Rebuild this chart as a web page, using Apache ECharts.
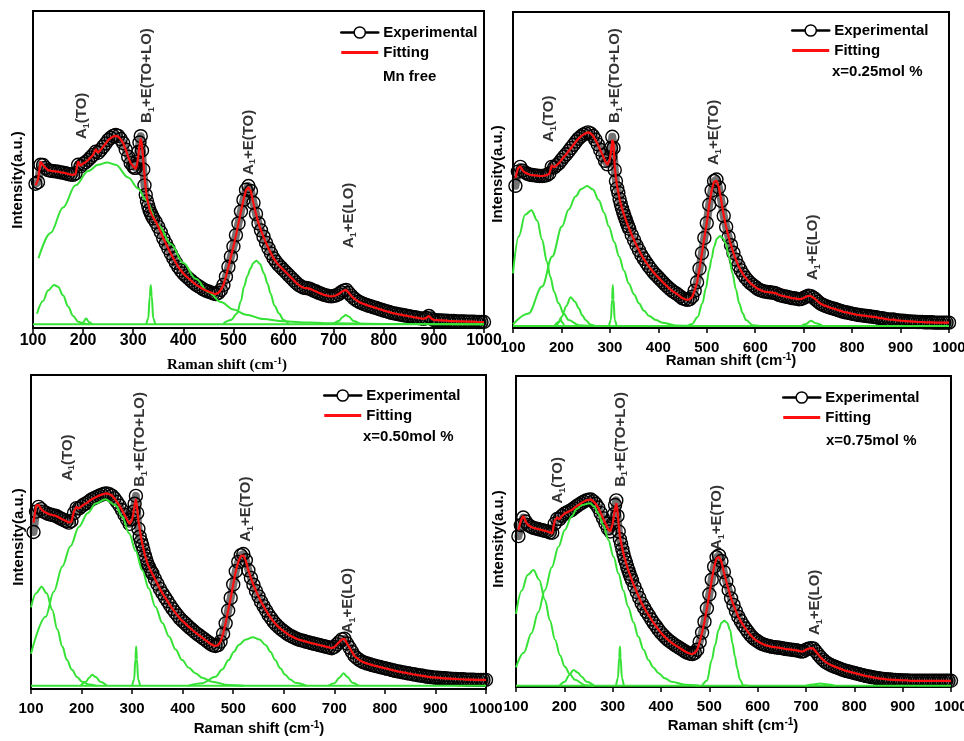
<!DOCTYPE html>
<html>
<head>
<meta charset="utf-8">
<script src="https://cdn.jsdelivr.net/npm/echarts@6/dist/echarts.min.js"></script>
<style>
  html, body { margin: 0; padding: 0; background: #fff; }
  #chart { width: 964px; height: 741px; }
</style>
</head>
<body>
<div id="chart"></div>
<script>
// Raman shift grid (cm-1), shared by the four spectra
const ramanShift = [
  105, 110, 115, 120, 125, 130, 135, 140, 145, 150,
  155, 160, 165, 170, 175, 180, 185, 190, 195, 200,
  205, 210, 215, 220, 225, 230, 235, 240, 245, 250,
  255, 260, 265, 270, 275, 280, 285, 290, 295, 300,
  302.5, 305, 307.5, 310, 312.5, 315, 317.5, 320, 322.5, 325, 327.5, 330, 332.5, 335, 337.5, 340,
  345, 350, 355, 360, 365, 370, 375, 380, 385, 390,
  395, 400, 405, 410, 415, 420, 425, 430, 435, 440,
  445, 450, 455, 460, 465, 470, 475, 480, 485, 490,
  495, 500, 505, 510, 515, 520, 525, 530, 535, 540,
  545, 550, 555, 560, 565, 570, 575, 580, 585, 590,
  595, 600, 605, 610, 615, 620, 625, 630, 635, 640,
  645, 650, 655, 660, 665, 670, 675, 680, 685, 690,
  695, 700, 705, 710, 715, 720, 725, 730, 735, 740,
  745, 750, 755, 760, 765, 770, 775, 780, 785, 790,
  795, 800, 805, 810, 815, 820, 825, 830, 835, 840,
  845, 850, 855, 860, 865, 870, 875, 880, 885, 890,
  895, 900, 905, 910, 915, 920, 925, 930, 935, 940,
  945, 950, 955, 960, 965, 970, 975, 980, 985, 990, 995, 1000
]

// ---- Mn free ----
const expMnFree = [
  45.5, 46.0, 51.5, 51.4, 50.5, 49.8, 49.6, 49.5, 49.4, 49.3,
  49.1, 49.0, 48.8, 48.6, 48.4, 48.3, 48.8, 51.5, 51.0, 51.8,
  52.3, 53.0, 53.8, 54.6, 55.6, 55.3, 56.2, 57.2, 58.2, 59.3,
  60.0, 60.6, 60.9, 60.6, 59.6, 58.3, 56.3, 54.0, 52.0, 51.0,
  50.5, 50.5, 52.5, 55.5, 58.5, 60.5, 56.0, 50.0, 45.0, 42.0, 40.0, 38.5, 37.2, 36.2, 35.4, 34.6,
  33.4, 31.9, 30.2, 28.3, 26.7, 25.1, 23.5, 22.0, 20.6, 19.3,
  18.2, 17.2, 16.4, 15.7, 15.0, 14.3, 13.7, 13.2, 12.7, 12.2,
  11.8, 11.5, 11.2, 10.9, 10.7, 11.1, 12.0, 13.6, 16.2, 19.3,
  22.5, 25.7, 29.3, 33.0, 36.8, 40.4, 43.6, 44.8, 43.2, 39.5,
  36.0, 33.0, 30.8, 28.8, 26.9, 25.1, 23.5, 22.0, 20.9, 19.9,
  19.1, 18.3, 17.5, 16.7, 15.9, 15.1, 14.3, 13.6, 13.1, 12.7,
  12.6, 12.5, 12.2, 11.8, 11.5, 11.1, 10.8, 10.5, 10.3, 10.1,
  10.0, 10.1, 10.3, 10.7, 11.3, 11.8, 12.0, 11.1, 10.2, 9.4,
  8.8, 8.3, 7.9, 7.6, 7.3, 7.0, 6.8, 6.5, 6.3, 6.0,
  5.8, 5.5, 5.3, 5.1, 4.8, 4.6, 4.5, 4.3, 4.2, 4.0,
  3.9, 3.7, 3.6, 3.4, 3.3, 3.1, 3.0, 2.9, 3.2, 3.8,
  3.0, 2.5, 2.5, 2.4, 2.4, 2.3, 2.3, 2.2, 2.2, 2.2,
  2.1, 2.1, 2.1, 2.1, 2.0, 2.0, 2.0, 2.0, 1.9, 1.9, 1.9, 1.9
]
const fitMnFree = [
  45.0, 46.8, 52.5, 51.4, 50.5, 49.8, 49.6, 49.5, 49.4, 49.3,
  49.1, 49.0, 48.8, 48.6, 48.4, 48.3, 48.6, 52.5, 51.2, 51.9,
  52.3, 53.0, 53.8, 54.6, 56.4, 55.3, 56.2, 57.2, 58.2, 59.3,
  59.9, 60.4, 60.6, 60.4, 59.5, 58.3, 56.3, 54.0, 52.0, 51.0,
  50.5, 50.2, 51.5, 54.0, 57.5, 59.8, 57.5, 53.0, 48.0, 44.0, 41.0, 39.3, 37.5, 36.5, 35.6, 34.8,
  33.5, 32.0, 30.2, 28.3, 26.7, 25.1, 23.5, 22.0, 20.6, 19.3,
  18.2, 17.2, 16.4, 15.7, 15.0, 14.3, 13.7, 13.2, 12.7, 12.2,
  11.8, 11.5, 11.2, 10.9, 10.7, 11.1, 12.0, 13.6, 16.2, 19.3,
  22.5, 25.7, 29.3, 33.0, 36.8, 40.4, 43.5, 44.4, 43.0, 39.3,
  36.0, 33.0, 30.8, 28.8, 26.9, 25.1, 23.5, 22.0, 20.9, 19.9,
  19.1, 18.3, 17.5, 16.7, 15.9, 15.1, 14.3, 13.6, 13.1, 12.7,
  12.6, 12.5, 12.2, 11.8, 11.5, 11.1, 10.8, 10.5, 10.3, 10.1,
  10.0, 10.1, 10.3, 10.7, 11.3, 11.8, 12.0, 11.1, 10.2, 9.4,
  8.8, 8.3, 7.9, 7.6, 7.3, 7.0, 6.8, 6.5, 6.3, 6.0,
  5.8, 5.5, 5.3, 5.1, 4.8, 4.6, 4.5, 4.3, 4.2, 4.0,
  3.9, 3.7, 3.6, 3.4, 3.3, 3.1, 3.0, 2.9, 3.2, 3.8,
  3.0, 2.5, 2.5, 2.4, 2.4, 2.3, 2.3, 2.2, 2.2, 2.2,
  2.1, 2.1, 2.1, 2.1, 2.0, 2.0, 2.0, 2.0, 1.9, 1.9, 1.9, 1.9
]
// fitted components [shift, intensity]
const peaksMnFree = [
  [[100, 1.2], [1000, 1.2]],
  [[111, 22], [135, 30], [160, 38], [185, 45], [210, 49.5], [230, 51.5], [248, 52.2], [265, 51.5], [290, 47.5], [310, 44], [325, 40.4], [350, 32.5], [375, 26.5], [400, 20.5], [425, 15.5], [450, 11.3], [475, 8.2], [500, 5.8], [525, 4.2], [560, 2.8], [600, 2.1], [650, 1.7], [700, 1.5], [800, 1.3], [1000, 1.2]],
  [[108, 4.5], [120, 8.5], [130, 11.8], [142, 13.6], [150, 13], [160, 10.3], [170, 6.8], [180, 3.8], [190, 2], [200, 1.4], [212, 1.2]],
  [[195, 1.2], [200, 1.8], [206, 3], [212, 1.8], [218, 1.2]],
  [[326, 1.2], [330, 3], [333, 10], [335, 13.6], [337, 10], [340, 3], [344, 1.2]],
  [[480, 1.4], [495, 2.5], [507, 4.6], [515, 8.5], [521, 13], [528, 16.5], [534, 18.8], [540, 20.6], [546, 21.2], [553, 20.2], [561, 17.2], [568, 14], [574, 10.9], [582, 7], [591, 4.6], [600, 2.5], [610, 1.4]],
  [[700, 1.3], [710, 2.2], [718, 3.5], [724, 4.1], [730, 3.6], [740, 2.2], [752, 1.3]]
]

// ---- x = 0.25 mol % ----
const exp025 = [
  45.0, 49.5, 51.0, 49.8, 49.2, 48.8, 48.5, 48.4, 48.3, 48.2,
  48.1, 48.1, 48.2, 48.4, 48.9, 51.0, 50.8, 51.5, 52.2, 53.2,
  54.2, 55.0, 56.0, 57.0, 58.0, 59.0, 59.9, 60.6, 61.2, 61.6,
  61.9, 61.6, 60.8, 59.6, 58.1, 56.4, 54.7, 52.9, 51.8, 54.0,
  57.0, 60.5, 57.0, 50.0, 46.5, 44.2, 42.8, 40.8, 39.3, 37.9, 36.6, 35.5, 34.4, 33.3, 32.3, 31.4,
  29.5, 27.8, 26.1, 24.6, 23.1, 21.9, 20.7, 19.6, 18.6, 17.6,
  16.8, 16.0, 15.2, 14.4, 13.6, 12.9, 12.2, 11.6, 11.1, 10.6,
  10.0, 9.4, 9.1, 8.9, 9.1, 9.9, 11.8, 14.5, 18.8, 23.7,
  28.5, 33.2, 39.0, 43.5, 46.5, 47.0, 44.5, 40.2, 35.5, 32.0,
  28.8, 26.2, 23.8, 21.6, 19.8, 18.3, 17.0, 15.9, 15.0, 14.2,
  13.6, 13.0, 12.4, 12.0, 11.7, 11.5, 11.4, 11.3, 11.2, 11.1,
  10.8, 10.4, 10.2, 10.0, 9.9, 9.7, 9.5, 9.4, 9.3, 9.1,
  9.2, 9.5, 9.9, 10.2, 10.1, 9.6, 9.0, 8.3, 7.7, 7.3,
  7.0, 6.7, 6.4, 6.2, 6.0, 5.7, 5.5, 5.2, 5.0, 4.9,
  4.7, 4.5, 4.4, 4.2, 4.1, 4.0, 3.9, 3.8, 3.7, 3.6,
  3.5, 3.4, 3.2, 3.1, 3.0, 2.8, 2.7, 2.6, 2.7, 2.5,
  2.4, 2.3, 2.3, 2.2, 2.1, 2.1, 2.0, 2.0, 1.9, 1.9,
  1.9, 1.8, 1.8, 1.8, 1.8, 1.7, 1.7, 1.7, 1.7, 1.7, 1.7, 1.7
]
const fit025 = [
  47.5, 50.5, 51.2, 49.8, 49.2, 48.8, 48.5, 48.4, 48.3, 48.2,
  48.1, 48.1, 48.2, 48.4, 48.8, 51.5, 50.8, 51.5, 52.2, 53.2,
  54.2, 55.0, 56.0, 57.0, 58.0, 59.0, 59.9, 60.6, 61.2, 61.6,
  61.9, 61.6, 60.8, 59.6, 58.1, 56.4, 54.7, 52.9, 51.6, 53.5,
  56.0, 59.5, 58.5, 51.0, 47.5, 44.7, 42.8, 40.8, 39.3, 37.9, 36.6, 35.5, 34.4, 33.3, 32.3, 31.4,
  29.5, 27.8, 26.1, 24.6, 23.1, 21.9, 20.7, 19.6, 18.6, 17.6,
  16.8, 16.0, 15.2, 14.4, 13.6, 12.9, 12.2, 11.6, 11.1, 10.6,
  10.0, 9.4, 9.1, 8.9, 9.1, 9.9, 11.8, 14.5, 18.8, 23.7,
  28.5, 33.2, 39.0, 43.5, 46.3, 46.6, 44.5, 40.2, 35.5, 32.0,
  28.8, 26.2, 23.8, 21.6, 19.8, 18.3, 17.0, 15.9, 15.0, 14.2,
  13.6, 13.0, 12.4, 12.0, 11.7, 11.5, 11.4, 11.3, 11.2, 11.1,
  10.8, 10.4, 10.2, 10.0, 9.9, 9.7, 9.5, 9.4, 9.3, 9.1,
  9.2, 9.5, 9.9, 10.2, 10.1, 9.6, 9.0, 8.3, 7.7, 7.3,
  7.0, 6.7, 6.4, 6.2, 6.0, 5.7, 5.5, 5.2, 5.0, 4.9,
  4.7, 4.5, 4.4, 4.2, 4.1, 4.0, 3.9, 3.8, 3.7, 3.6,
  3.5, 3.4, 3.2, 3.1, 3.0, 2.8, 2.7, 2.6, 2.7, 2.5,
  2.4, 2.3, 2.3, 2.2, 2.1, 2.1, 2.0, 2.0, 1.9, 1.9,
  1.9, 1.8, 1.8, 1.8, 1.8, 1.7, 1.7, 1.7, 1.7, 1.7, 1.7, 1.7
]
const peaks025 = [
  [[100, 0.6], [1000, 0.6]],
  [[100, 17.3], [112, 29], [125, 35.8], [138, 37.3], [150, 34], [160, 28], [170, 21], [177, 16.2], [185, 11.5], [194, 7.8], [205, 4.5], [215, 2.5], [236, 0.9], [260, 0.6]],
  [[100, 1.2], [132, 4.6], [160, 13.1], [181, 22.6], [201, 32.1], [215, 37.5], [229, 41.6], [241, 44], [253, 44.9], [265, 43.8], [277, 40.5], [288, 36.5], [298, 32.1], [309, 27.2], [319, 22.6], [329, 18.2], [339, 14.1], [350, 10.6], [360, 7.8], [370, 5.5], [381, 3.8], [395, 2.5], [408, 1.7], [436, 0.8], [480, 0.6]],
  [[185, 0.6], [195, 2], [201, 3.6], [210, 7], [219, 9.7], [228, 8.3], [236, 6.2], [243, 4], [250, 2.5], [260, 1.1], [270, 0.6]],
  [[190, 0.6], [195, 1.8], [198, 3.1], [201, 1.8], [206, 0.6]],
  [[298, 0.6], [302, 2.5], [304.5, 9], [306, 13.6], [307.5, 9], [310, 2.5], [314, 0.6]],
  [[460, 0.6], [470, 1.3], [481, 3.5], [491, 7.8], [498, 12.5], [505, 18.4], [510, 22], [515, 25.7], [521, 28.3], [527, 29.1], [533, 28.5], [539, 26.8], [546, 22.5], [553, 17.3], [560, 12.3], [567, 7.8], [574, 4.7], [581, 2.5], [595, 0.9], [610, 0.6]],
  [[695, 0.6], [705, 1.3], [715, 2.3], [725, 1.5], [740, 0.6]]
]

// ---- x = 0.50 mol % ----
const exp050 = [
  50.0, 56.5, 58.0, 57.3, 56.5, 56.1, 55.7, 55.5, 55.3, 55.1,
  54.6, 54.2, 53.8, 53.4, 53.0, 53.5, 56.0, 57.6, 57.5, 58.2,
  58.8, 59.2, 59.8, 60.4, 60.8, 61.2, 61.6, 61.9, 62.2, 62.3,
  62.0, 61.6, 60.7, 59.6, 58.4, 57.0, 55.5, 54.0, 52.6, 54.0,
  56.5, 59.0, 61.5, 56.0, 51.0, 48.5, 47.0, 45.8, 44.2, 42.6, 41.4, 40.1, 39.1, 38.2, 37.4, 36.8,
  35.1, 33.5, 31.9, 30.5, 29.2, 28.0, 26.7, 25.5, 24.4, 23.4,
  22.4, 21.6, 20.9, 20.1, 19.4, 18.7, 18.0, 17.4, 16.8, 16.2,
  15.6, 15.0, 14.4, 13.9, 13.7, 14.0, 15.1, 17.6, 20.9, 25.0,
  29.0, 33.3, 37.5, 40.5, 42.6, 43.0, 41.0, 37.8, 35.4, 33.2,
  31.2, 29.5, 27.8, 26.4, 25.0, 23.6, 22.5, 21.4, 20.5, 19.7,
  19.0, 18.4, 17.8, 17.2, 16.8, 16.4, 16.0, 15.7, 15.5, 15.3,
  15.0, 14.8, 14.6, 14.4, 14.2, 14.0, 13.8, 13.6, 13.4, 13.2,
  13.0, 13.4, 14.2, 15.0, 15.8, 16.0, 14.5, 13.2, 11.8, 10.5,
  9.8, 9.2, 8.7, 8.4, 8.1, 7.9, 7.6, 7.4, 7.2, 7.0,
  6.8, 6.6, 6.4, 6.2, 6.0, 5.8, 5.6, 5.5, 5.3, 5.2,
  5.0, 4.9, 4.7, 4.6, 4.4, 4.3, 4.2, 4.0, 3.9, 3.8,
  3.7, 3.6, 3.6, 3.5, 3.4, 3.4, 3.3, 3.3, 3.2, 3.2,
  3.1, 3.1, 3.1, 3.0, 3.0, 3.0, 3.0, 2.9, 2.9, 2.9, 2.9, 2.9
]
const fit050 = [
  53.0, 58.5, 58.6, 57.3, 56.5, 56.1, 55.7, 55.5, 55.3, 55.1,
  54.6, 54.2, 53.8, 53.4, 53.0, 53.3, 56.5, 58.0, 57.5, 58.2,
  58.8, 59.2, 59.8, 60.4, 60.8, 61.2, 61.6, 61.9, 62.2, 62.3,
  62.0, 61.6, 60.7, 59.6, 58.4, 57.0, 55.5, 54.0, 52.6, 54.0,
  56.0, 58.5, 60.5, 57.5, 53.5, 50.8, 48.5, 46.4, 44.6, 42.8, 41.5, 40.2, 39.1, 38.2, 37.4, 36.8,
  35.1, 33.5, 31.9, 30.5, 29.2, 28.0, 26.7, 25.5, 24.4, 23.4,
  22.4, 21.6, 20.9, 20.1, 19.4, 18.7, 18.0, 17.4, 16.8, 16.2,
  15.6, 15.0, 14.4, 13.9, 13.7, 14.0, 15.1, 17.6, 20.9, 25.0,
  29.0, 33.3, 37.5, 40.5, 42.4, 42.5, 40.8, 37.8, 35.4, 33.2,
  31.2, 29.5, 27.8, 26.4, 25.0, 23.6, 22.5, 21.4, 20.5, 19.7,
  19.0, 18.4, 17.8, 17.2, 16.8, 16.4, 16.0, 15.7, 15.5, 15.3,
  15.0, 14.8, 14.6, 14.4, 14.2, 14.0, 13.8, 13.6, 13.4, 13.2,
  13.0, 13.4, 14.2, 15.0, 15.8, 16.0, 14.5, 13.2, 11.8, 10.5,
  9.8, 9.2, 8.7, 8.4, 8.1, 7.9, 7.6, 7.4, 7.2, 7.0,
  6.8, 6.6, 6.4, 6.2, 6.0, 5.8, 5.6, 5.5, 5.3, 5.2,
  5.0, 4.9, 4.7, 4.6, 4.4, 4.3, 4.2, 4.0, 3.9, 3.8,
  3.7, 3.6, 3.6, 3.5, 3.4, 3.4, 3.3, 3.3, 3.2, 3.2,
  3.1, 3.1, 3.1, 3.0, 3.0, 3.0, 3.0, 2.9, 2.9, 2.9, 2.9, 2.9
]
const peaks050 = [
  [[100, 1.0], [1000, 1.0]],
  [[100, 26], [110, 30.5], [121, 32.6], [131, 30.5], [142, 25.2], [152, 19], [162, 13.5], [171, 9.3], [181, 6.1], [191, 3.8], [201, 2.3], [215, 1.4], [230, 1.0]],
  [[100, 11.2], [129, 23], [145, 31], [162, 39], [178, 45.5], [195, 51.7], [212, 56], [228, 59.1], [247, 60.4], [267, 58.6], [280, 55], [294, 49.6], [307, 44], [320, 37.9], [333, 32], [346, 26.2], [360, 21], [373, 16.7], [386, 12.6], [399, 9.2], [412, 6.8], [425, 5], [440, 3.5], [458, 2.3], [491, 1.3], [520, 1.0]],
  [[198, 1.0], [208, 2.2], [215, 3.6], [221, 4.5], [228, 3.8], [238, 2.2], [250, 1.0]],
  [[300, 1.0], [304, 3], [306.5, 9.5], [308, 13.5], [309.5, 9.5], [312, 3], [316, 1.0]],
  [[410, 1.0], [438, 1.8], [465, 3.9], [478, 6.2], [491, 9.2], [501, 11.8], [511, 14], [525, 15.8], [539, 16.5], [552, 15.8], [564, 14], [574, 11.8], [583, 9.2], [593, 6.6], [603, 4.5], [613, 3], [623, 2], [645, 1.0]],
  [[688, 1.0], [700, 1.8], [710, 3.6], [718, 5], [726, 3.8], [736, 2], [748, 1.0]]
]

// ---- x = 0.75 mol % ----
const exp075 = [
  48.5, 52.0, 54.5, 53.2, 52.1, 51.6, 51.2, 51.0, 50.8, 50.6,
  50.4, 50.2, 50.0, 49.7, 49.6, 52.5, 54.0, 54.0, 55.0, 55.7,
  56.1, 56.5, 56.9, 57.5, 58.1, 58.6, 59.1, 59.6, 60.0, 60.2,
  60.3, 59.7, 58.9, 57.7, 56.0, 54.3, 52.6, 51.0, 50.0, 52.5,
  55.5, 58.5, 60.0, 55.0, 50.0, 47.5, 46.0, 44.3, 42.7, 41.2, 40.0, 38.7, 37.5, 36.4, 35.3, 34.3,
  32.3, 30.5, 28.7, 26.9, 25.5, 24.2, 23.0, 21.7, 20.5, 19.5,
  18.4, 17.4, 16.6, 15.8, 15.1, 14.5, 13.9, 13.4, 12.9, 12.4,
  11.9, 11.4, 11.0, 10.7, 10.6, 11.0, 12.0, 14.5, 17.5, 21.0,
  25.3, 29.8, 34.5, 38.7, 41.7, 42.3, 40.5, 37.0, 34.0, 31.2,
  28.5, 26.4, 24.4, 22.6, 21.2, 19.9, 18.8, 17.7, 16.7, 15.9,
  15.2, 14.7, 14.2, 13.8, 13.5, 13.3, 13.1, 12.9, 12.8, 12.7,
  12.6, 12.5, 12.3, 12.2, 12.1, 12.0, 11.9, 11.8, 11.6, 11.4,
  11.5, 12.0, 12.3, 12.5, 12.4, 11.5, 10.5, 9.6, 8.8, 8.1,
  7.6, 7.2, 6.8, 6.5, 6.2, 5.9, 5.6, 5.3, 5.1, 4.9,
  4.7, 4.5, 4.3, 4.1, 3.9, 3.7, 3.5, 3.4, 3.2, 3.1,
  2.9, 2.8, 2.7, 2.6, 2.5, 2.4, 2.4, 2.3, 2.3, 2.2,
  2.2, 2.1, 2.1, 2.1, 2.0, 2.0, 2.0, 2.0, 2.0, 2.0,
  2.0, 2.0, 2.0, 2.0, 2.0, 2.0, 2.0, 2.0, 2.0, 2.0, 2.0, 2.0
]
const fit075 = [
  50.5, 53.5, 55.0, 53.2, 52.1, 51.6, 51.2, 51.0, 50.8, 50.6,
  50.4, 50.2, 50.0, 49.7, 49.4, 53.5, 54.5, 54.0, 55.0, 55.7,
  56.1, 56.5, 56.9, 57.5, 58.1, 58.6, 59.1, 59.6, 60.0, 60.2,
  60.3, 59.7, 58.9, 57.7, 56.0, 54.3, 52.6, 51.0, 50.0, 52.5,
  55.0, 57.5, 59.1, 56.5, 52.0, 48.3, 46.4, 44.5, 42.8, 41.3, 40.0, 38.7, 37.5, 36.4, 35.3, 34.3,
  32.3, 30.5, 28.7, 26.9, 25.5, 24.2, 23.0, 21.7, 20.5, 19.5,
  18.4, 17.4, 16.6, 15.8, 15.1, 14.5, 13.9, 13.4, 12.9, 12.4,
  11.9, 11.4, 11.0, 10.7, 10.6, 11.0, 12.0, 14.5, 17.5, 21.0,
  25.3, 29.8, 34.5, 38.7, 41.5, 41.8, 40.3, 37.0, 34.0, 31.2,
  28.5, 26.4, 24.4, 22.6, 21.2, 19.9, 18.8, 17.7, 16.7, 15.9,
  15.2, 14.7, 14.2, 13.8, 13.5, 13.3, 13.1, 12.9, 12.8, 12.7,
  12.6, 12.5, 12.3, 12.2, 12.1, 12.0, 11.9, 11.8, 11.6, 11.4,
  11.5, 12.0, 12.3, 12.5, 12.4, 11.5, 10.5, 9.6, 8.8, 8.1,
  7.6, 7.2, 6.8, 6.5, 6.2, 5.9, 5.6, 5.3, 5.1, 4.9,
  4.7, 4.5, 4.3, 4.1, 3.9, 3.7, 3.5, 3.4, 3.2, 3.1,
  2.9, 2.8, 2.7, 2.6, 2.5, 2.4, 2.4, 2.3, 2.3, 2.2,
  2.2, 2.1, 2.1, 2.1, 2.0, 2.0, 2.0, 2.0, 2.0, 2.0,
  2.0, 2.0, 2.0, 2.0, 2.0, 2.0, 2.0, 2.0, 2.0, 2.0, 2.0, 2.0
]
const peaks075 = [
  [[100, 0.4], [1000, 0.4]],
  [[100, 23.5], [112, 31], [124, 36], [136, 37.6], [148, 34.5], [160, 28], [170, 21.5], [181, 15.1], [191, 10.2], [201, 6.5], [212, 4], [222, 2.3], [243, 0.6], [260, 0.4]],
  [[100, 6.3], [116, 11], [132, 17.3], [146, 24], [160, 31.2], [174, 38.5], [188, 45.1], [201, 50.5], [215, 54.8], [226, 57.3], [236, 58.5], [253, 59.1], [262, 58], [270, 55.8], [281, 52], [291, 47.3], [302, 41.8], [312, 36.5], [322, 31], [332, 25.8], [343, 20.8], [353, 16.2], [364, 12], [374, 8.7], [384, 6.3], [395, 4.4], [408, 2.8], [422, 1.7], [450, 0.75], [480, 0.4]],
  [[190, 0.4], [201, 1.7], [210, 3.8], [219, 5.5], [228, 4.6], [236, 3.3], [246, 1.7], [262, 0.4]],
  [[307, 0.4], [311, 3], [313.5, 9.5], [315, 13], [316.5, 9.5], [319, 3], [323, 0.4]],
  [[485, 0.4], [495, 2], [505, 8.7], [512, 13.5], [519, 18.3], [525, 20.6], [531, 21.3], [537, 20.6], [543, 18.3], [548, 14], [553, 9.8], [558, 5.8], [563, 2.5], [570, 0.6], [580, 0.4]],
  [[700, 0.4], [715, 0.8], [730, 1.1], [745, 0.8], [760, 0.4]]
]

const SANS = '"Liberation Sans", Arial, Helvetica, sans-serif'
const SERIF = '"Liberation Serif", "Times New Roman", serif'
const GREEN = '#35e235'
const RED = '#ff1010'

// peak labels (rich text, subscript 1)
const A1TO = '{t|A}{s|1}{t|(TO)}'
const B1ETOLO = '{t|B}{s|1}{t|+E(TO+LO)}'
const A1ETO = '{t|A}{s|1}{t|+E(TO)}'
const A1ELO = '{t|A}{s|1}{t|+E(LO)}'

const panels = [
  {
    box: { left: 33, top: 11, width: 451, height: 317 },
    exp: expMnFree, fit: fitMnFree, peaks: peaksMnFree,
    tickSize: 16, tickMargin: 5,
    legendAt: [340, 25], note: 'Mn free', noteAt: [383, 77],
    xNameAt: [227, 365], xNameFont: SERIF, yNameAt: [18, 180],
    labels: [[198, 59.6, A1TO], [328, 64.7, B1ETOLO], [530, 48.3, A1ETO], [730, 25.2, A1ELO]]
  },
  {
    box: { left: 513, top: 12, width: 436, height: 316 },
    exp: exp025, fit: fit025, peaks: peaks025,
    tickSize: 15, tickMargin: 12,
    legendAt: [791, 23], note: 'x=0.25mol %', noteAt: [832, 72],
    xNameAt: [731, 361], xNameFont: SANS, yNameAt: [498, 174],
    labels: [[174, 58.9, A1TO], [310, 64.9, B1ETOLO], [515, 51.6, A1ETO], [720, 15.2, A1ELO]]
  },
  {
    box: { left: 31, top: 375, width: 455, height: 314 },
    exp: exp050, fit: fit050, peaks: peaks050,
    tickSize: 15, tickMargin: 12,
    legendAt: [323, 388], note: 'x=0.50mol %', noteAt: [363, 437],
    xNameAt: [259, 729], xNameFont: SANS, yNameAt: [19, 537],
    labels: [[172, 66.3, A1TO], [316, 64.4, B1ETOLO], [525, 46.9, A1ETO], [727, 17.7, A1ELO]]
  },
  {
    box: { left: 516, top: 376, width: 435, height: 311 },
    exp: exp075, fit: fit075, peaks: peaks075,
    tickSize: 15, tickMargin: 12,
    legendAt: [782, 390], note: 'x=0.75mol %', noteAt: [826, 441],
    xNameAt: [733, 726], xNameFont: SANS, yNameAt: [499, 539],
    labels: [[187, 59, A1TO], [316, 64.4, B1ETOLO], [515, 44, A1ETO], [718, 16.7, A1ELO]]
  }
]

panels.forEach(p => {
  if (p.exp.length !== ramanShift.length || p.fit.length !== ramanShift.length) {
    console.error('length mismatch', p.note, p.exp.length, p.fit.length, ramanShift.length)
  }
})

function pairs(xs, ys) {
  return xs.map((x, i) => [x, ys[i]])
}

const grid = []
const xAxis = []
const yAxis = []
const series = []
const legend = []
const graphic = []

panels.forEach((p, i) => {
  grid.push(Object.assign({
    show: true, borderColor: '#000', borderWidth: 2,
    containLabel: false, outerBoundsMode: 'none'
  }, p.box))

  xAxis.push({
    type: 'value', gridIndex: i, min: 100, max: 1000, interval: 100,
    axisLine: { show: true, onZero: false, lineStyle: { color: '#000', width: 2 } },
    axisTick: { show: true, inside: false, length: 5, lineStyle: { color: '#000', width: 1.5 } },
    axisLabel: {
      color: '#000', fontSize: p.tickSize, fontWeight: 'bold', fontFamily: SANS, margin: p.tickMargin,
      formatter: v => String(v)
    },
    splitLine: { show: false }
  })
  yAxis.push({
    type: 'value', gridIndex: i, min: 0, max: 100,
    axisLine: { show: true, lineStyle: { color: '#000', width: 2 } },
    axisTick: { show: false }, axisLabel: { show: false }, splitLine: { show: false }
  })

  // experimental points (hollow circles, dense trace underneath)
  series.push({
    name: 'Experimental', type: 'line', xAxisIndex: i, yAxisIndex: i,
    data: pairs(ramanShift, p.exp),
    symbol: 'circle', symbolSize: 13, showAllSymbol: true,
    itemStyle: { color: 'transparent', borderColor: '#000', borderWidth: 1.4 },
    lineStyle: { color: 'rgba(0,0,0,0.55)', width: 8, cap: 'round', join: 'round' },
    z: 2, silent: true, emphasis: { disabled: true }
  })
  // fitted components
  p.peaks.forEach(c => {
    series.push({
      type: 'line', xAxisIndex: i, yAxisIndex: i, data: c,
      smooth: 0.35, smoothMonotone: 'x', symbol: 'none',
      lineStyle: { color: GREEN, width: 2 },
      z: 3, silent: true, emphasis: { disabled: true }
    })
  })
  // cumulative fit
  series.push({
    name: 'Fitting', type: 'line', xAxisIndex: i, yAxisIndex: i,
    data: pairs(ramanShift, p.fit), symbol: 'none',
    lineStyle: { color: RED, width: 2.2 },
    z: 4, silent: true, emphasis: { disabled: true }
  })
  // mode labels
  series.push({
    type: 'scatter', xAxisIndex: i, yAxisIndex: i, symbolSize: 0, silent: true, z: 5,
    data: p.labels.map(l => ({ name: l[2], value: [l[0], l[1]] })),
    label: {
      show: true, position: [0, 0], rotate: 90, align: 'left', verticalAlign: 'middle',
      color: '#000', textBorderWidth: 0, textShadowBlur: 0,
      formatter: d => d.name,
      rich: {
        t: { fontSize: 15, fontWeight: 'bold', fontFamily: SANS, color: '#000', lineHeight: 18, textBorderWidth: 0 },
        s: { fontSize: 9, fontWeight: 'bold', fontFamily: SANS, color: '#000', lineHeight: 10, verticalAlign: 'bottom', textBorderWidth: 0 }
      }
    }
  })

  legend.push({
    left: p.legendAt[0], top: p.legendAt[1], orient: 'vertical', padding: 0,
    itemWidth: 37, itemHeight: 14, itemGap: 5,
    textStyle: { color: '#000', fontSize: 15, fontWeight: 'bold', fontFamily: SANS },
    selectedMode: false,
    data: [
      { name: 'Experimental', itemStyle: { color: '#fff', borderColor: '#000', borderWidth: 1.5 }, lineStyle: { color: '#000', width: 2.5 } },
      { name: 'Fitting', icon: 'path://M0,0H37V3H0Z', itemStyle: { color: RED, borderWidth: 0 } }
    ]
  })

  graphic.push({
    type: 'text', x: p.noteAt[0], y: p.noteAt[1],
    style: { text: p.note, font: 'bold 15px ' + SANS, fill: '#000', verticalAlign: 'middle', textVerticalAlign: 'middle' }
  })
  graphic.push({
    type: 'text', x: p.yNameAt[0], y: p.yNameAt[1], rotation: Math.PI / 2,
    style: { text: 'Intensity(a.u.)', font: 'bold 15px ' + SANS, fill: '#000', align: 'center', textAlign: 'center', verticalAlign: 'middle', textVerticalAlign: 'middle' }
  })
  graphic.push({
    type: 'text', x: p.xNameAt[0], y: p.xNameAt[1],
    style: {
      text: '{b|Raman shift (cm}{sup|-1}{b|)}',
      align: 'center', textAlign: 'center', verticalAlign: 'middle', textVerticalAlign: 'middle',
      rich: {
        b: { fontSize: 15, fontWeight: 'bold', fontFamily: p.xNameFont, fill: '#000', lineHeight: 18 },
        sup: { fontSize: 10, fontWeight: 'bold', fontFamily: p.xNameFont, fill: '#000', lineHeight: 10, verticalAlign: 'top' }
      }
    }
  })
})

const chart = echarts.init(document.getElementById('chart'), null, { renderer: 'canvas' })
chart.setOption({
  animation: false,
  backgroundColor: '#fff',
  tooltip: { show: false },
  grid, xAxis, yAxis, legend, series, graphic
})
</script>
</body>
</html>
